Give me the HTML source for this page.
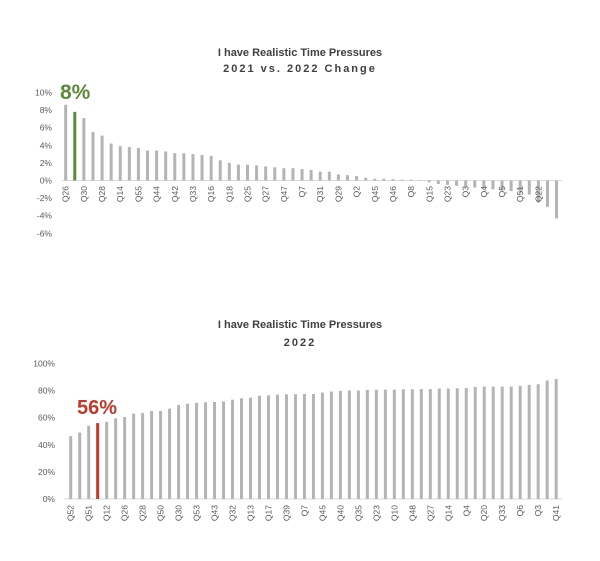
<!DOCTYPE html>
<html><head><meta charset="utf-8"><style>
html,body{margin:0;padding:0;background:#fff;}
svg{display:block;font-family:"Liberation Sans",Calibri,sans-serif;}
</style></head><body>
<svg id="s" width="600" height="561" xmlns="http://www.w3.org/2000/svg">
<text x="300" y="56" text-anchor="middle" font-size="11" font-weight="bold" fill="#404040">I have Realistic Time Pressures</text>
<text x="300" y="72" text-anchor="middle" font-size="11" font-weight="bold" fill="#404040" letter-spacing="2">2021 vs. 2022 Change</text>
<text x="300" y="328" text-anchor="middle" font-size="11" font-weight="bold" fill="#404040">I have Realistic Time Pressures</text>
<text x="300" y="346" text-anchor="middle" font-size="11" font-weight="bold" fill="#404040" letter-spacing="2">2022</text>
<g id="g"></g>
<text x="60" y="99" font-size="21" font-weight="bold" fill="#5b8a3a">8%</text>
<text x="77" y="414" font-size="20" font-weight="bold" fill="#c0392b">56%</text>
</svg>
<script>
var g=document.getElementById('g'),h='';
var GR='#b4b4b4',W=3;
var v1=[8.6,7.8,7.1,5.5,5.1,4.2,3.9,3.8,3.7,3.4,3.4,3.3,3.1,3.1,3.0,2.9,2.8,2.3,2.0,1.8,1.8,1.7,1.6,1.5,1.4,1.4,1.3,1.2,1.0,1.0,0.7,0.6,0.5,0.3,0.2,0.2,0.15,0.1,0.1,0.05,-0.2,-0.4,-0.5,-0.6,-0.7,-0.8,-0.9,-1.0,-1.1,-1.2,-1.4,-1.6,-2.5,-3.0,-4.3];
var l1="Q26,Q30,Q28,Q14,Q55,Q44,Q42,Q33,Q16,Q18,Q25,Q27,Q47,Q7,Q31,Q29,Q2,Q45,Q46,Q8,Q15,Q23,Q3,Q4,Q5,Q51,Q22".split(',');
var z=180.5,k=8.8;
for(var t=10;t>=-6;t-=2){h+='<text x="52" y="'+(z-t*k+3)+'" text-anchor="end" font-size="8.5" fill="#595959">'+t+'%</text>';}
h+='<line x1="62" x2="562" y1="'+z+'" y2="'+z+'" stroke="#d9d9d9" stroke-width="1"/>';
v1.forEach(function(v,i){var x=65.7+i*9.09;var y=v>0?z-v*k:z;h+='<rect x="'+(x-1.5)+'" y="'+y+'" width="'+W+'" height="'+Math.abs(v*k)+'" fill="'+(i==1?'#5b8a3a':GR)+'"/>';});
l1.forEach(function(s,j){var x=65.7+j*2*9.09+3;h+='<text transform="translate('+x+',186) rotate(-90)" text-anchor="end" font-size="8.5" fill="#595959">'+s+'</text>';});
var v2=[46.4,49,54,56,57,59.5,60.5,63,63.5,65,65,66.7,69.4,70.4,71,71.4,71.6,71.9,73.3,74.3,74.8,76.3,76.5,77,77.3,77.3,77.5,77.5,78.5,79.3,79.8,80,80,80.5,80.7,80.7,80.7,81,81,81.2,81.2,81.5,81.5,81.7,82,82.7,83,83,83,83,83.5,84.2,84.7,87.4,88.6];
var l2="Q52,Q51,Q12,Q26,Q28,Q50,Q30,Q53,Q43,Q32,Q13,Q17,Q39,Q7,Q45,Q40,Q35,Q23,Q10,Q48,Q27,Q14,Q4,Q20,Q33,Q6,Q3,Q41".split(',');
var z2=499,k2=1.355;
for(var t=0;t<=100;t+=20){h+='<text x="55" y="'+(z2-t*k2+3)+'" text-anchor="end" font-size="8.5" fill="#595959">'+t+'%</text>';}
h+='<line x1="64" x2="562" y1="'+z2+'" y2="'+z2+'" stroke="#d9d9d9" stroke-width="1"/>';
v2.forEach(function(v,i){var x=70.7+i*8.99;h+='<rect x="'+(x-1.5)+'" y="'+(z2-v*k2)+'" width="'+W+'" height="'+(v*k2)+'" fill="'+(i==3?'#c0392b':GR)+'"/>';});
l2.forEach(function(s,j){var x=70.7+j*2*8.99+3;h+='<text transform="translate('+x+',505) rotate(-90)" text-anchor="end" font-size="8.5" fill="#595959">'+s+'</text>';});
g.innerHTML=h;
</script>
</body></html>
